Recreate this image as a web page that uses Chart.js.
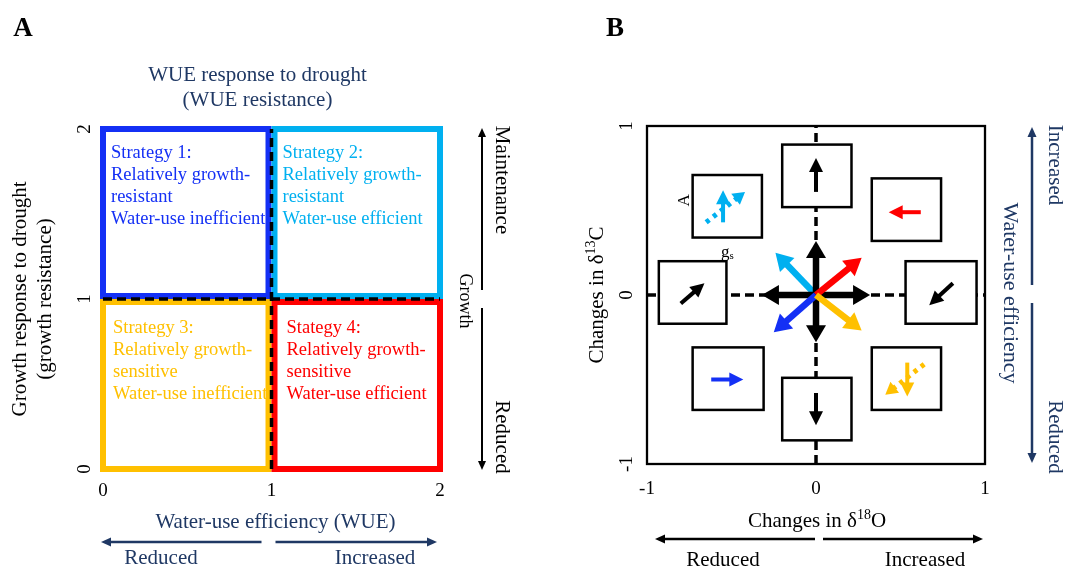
<!DOCTYPE html>
<html>
<head>
<meta charset="utf-8">
<title>WUE strategies and isotope responses</title>
<script src="https://cdn.jsdelivr.net/npm/chart.js@4/dist/chart.umd.min.js"></script>
<style>
  html, body { margin: 0; padding: 0; background: #ffffff; }
  #wrap { position: relative; width: 1067px; height: 571px; }
  #wrap canvas { position: absolute; left: 0; top: 0; }
</style>
</head>
<body>
<div id="wrap">
  <canvas id="panelA" width="1067" height="571"></canvas>
  <canvas id="panelB" width="1067" height="571"></canvas>
</div>
<script>
// ---------- Panel A: drought strategies on the WUE / growth resistance plane ----------
const resistanceTicks = [0, 1, 2];
const wueThreshold = 1;
const growthThreshold = 1;
const strategyNames = ['Strategy 1:', 'Strategy 2:', 'Strategy 3:', 'Stategy 4:'];
const growthTrait = ['Relatively growth-', 'Relatively growth-', 'Relatively growth-', 'Relatively growth-'];
const growthClass = ['resistant', 'resistant', 'sensitive', 'sensitive'];
const wueClass = ['Water-use inefficient', 'Water-use efficient', 'Water-use inefficient', 'Water-use efficient'];
const quadWueFrom = [0, 1, 0, 1];
const quadWueTo = [1, 2, 1, 2];
const quadGrowthFrom = [1, 1, 0, 0];
const quadGrowthTo = [2, 2, 1, 1];

// ---------- Panel B: expected shifts in δ13C and δ18O ----------
const isotopeTicks = [-1, 0, 1];
// inset boxes: δ18O range and δ13C range
const boxO18From = [-0.20, -0.73, 0.33, -0.93, 0.53, -0.73, -0.20, 0.33];
const boxO18To   = [ 0.21, -0.32, 0.74, -0.53, 0.95, -0.31,  0.21, 0.74];
const boxC13From = [ 0.52,  0.34, 0.32, -0.17, -0.17, -0.68, -0.86, -0.68];
const boxC13To   = [ 0.89,  0.71, 0.69,  0.20,  0.20, -0.31, -0.49, -0.31];
// solid arrow in each box (start -> tip)
const boxArrowO18Start = [0, 0.62, -0.80, 0.81, -0.62, 0, -0.55, 0.54];
const boxArrowC13Start = [0.61, 0.49, -0.05, 0.07, -0.50, -0.58, 0.43, -0.40];
const boxArrowO18Tip   = [0, 0.43, -0.66, 0.67, -0.43, 0, -0.55, 0.54];
const boxArrowC13Tip   = [0.81, 0.49, 0.07, -0.06, -0.50, -0.77, 0.62, -0.60];
const boxArrowColors = ['#000000', '#FF0000', '#000000', '#000000', '#1430F5', '#000000', '#00B0F0', '#FFC000'];
// dotted stomatal-conductance arrows
const gsArrowO18Start = [-0.65, 0.64];
const gsArrowC13Start = [0.43, -0.41];
const gsArrowO18Tip   = [-0.42, 0.41];
const gsArrowC13Tip   = [0.61, -0.59];
const gsArrowColors = ['#00B0F0', '#FFC000'];
// arrows radiating from the origin
const centerTipO18 = [-0.24, 0, 0, -0.32, 0.32, 0.27, -0.25, 0.27];
const centerTipC13 = [0.25, 0.32, -0.28, 0, 0, 0.22, -0.22, -0.21];
const centerColors = ['#00B0F0', '#000000', '#000000', '#000000', '#000000', '#FF0000', '#1430F5', '#FFC000'];

// ---------- styling ----------
const SERIF = "'Liberation Serif', 'Times New Roman', Times, serif";
const NAVY = '#1F3864';
const STRATEGY_COLORS = ['#1430F5', '#00B0F0', '#FFC000', '#FF0000'];

function fontStr(size, weight) { return (weight ? weight + ' ' : '') + size + 'px ' + SERIF; }

function drawText(ctx, str, x, y, o) {
  o = o || {};
  ctx.save();
  ctx.translate(x, y);
  if (o.rot) ctx.rotate(o.rot);
  ctx.font = fontStr(o.size || 21, o.weight);
  ctx.fillStyle = o.color || '#000';
  ctx.textAlign = o.align || 'center';
  ctx.textBaseline = 'middle';
  ctx.fillText(str, 0, 0);
  ctx.restore();
}

// text with super/subscript parts: [[string, 'n' | 'sup' | 'sub'], ...]
function drawRich(ctx, parts, x, y, size, color, rot, align) {
  ctx.save();
  ctx.translate(x, y);
  if (rot) ctx.rotate(rot);
  const small = Math.round(size * 0.66);
  let total = 0;
  const widths = parts.map(([s, k]) => {
    ctx.font = fontStr(k === 'n' ? size : small);
    const w = ctx.measureText(s).width;
    total += w;
    return w;
  });
  let cx = align === 'left' ? 0 : -total / 2;
  ctx.fillStyle = color;
  ctx.textAlign = 'left';
  ctx.textBaseline = 'middle';
  parts.forEach(([s, k], i) => {
    ctx.font = fontStr(k === 'n' ? size : small);
    const dy = k === 'sup' ? -size * 0.28 : (k === 'sub' ? size * 0.22 : 0);
    ctx.fillText(s, cx, dy);
    cx += widths[i];
  });
  ctx.restore();
}

function drawArrow(ctx, x0, y0, x1, y1, o) {
  const dx = x1 - x0, dy = y1 - y0;
  const len = Math.hypot(dx, dy);
  const ux = dx / len, uy = dy / len;
  const bx = x1 - ux * o.headLen, by = y1 - uy * o.headLen;
  ctx.save();
  ctx.strokeStyle = o.color;
  ctx.fillStyle = o.color;
  ctx.lineWidth = o.width;
  ctx.lineCap = 'butt';
  if (o.dash) ctx.setLineDash(o.dash);
  ctx.beginPath();
  ctx.moveTo(x0, y0);
  ctx.lineTo(bx + ux, by + uy);
  ctx.stroke();
  ctx.setLineDash([]);
  const hw = o.headWidth / 2;
  ctx.beginPath();
  ctx.moveTo(x1, y1);
  ctx.lineTo(bx - uy * hw, by + ux * hw);
  ctx.lineTo(bx + uy * hw, by - ux * hw);
  ctx.closePath();
  ctx.fill();
  ctx.restore();
}

function axis(min, max, tickValues, vertical, pad) {
  const ticks = {
    color: '#000',
    font: { family: SERIF, size: 19 },
    padding: pad
  };
  if (vertical) {
    ticks.minRotation = 90;
    ticks.maxRotation = 90;
    ticks.crossAlign = 'center';
  } else {
    ticks.maxRotation = 0;
  }
  return {
    type: 'linear',
    min: min,
    max: max,
    afterBuildTicks: (scale) => { scale.ticks = tickValues.map(v => ({ value: v })); },
    afterFit: (scale) => { if (vertical) scale.width = 30; else scale.height = 40; },
    grid: { display: false, drawTicks: false },
    border: { display: false },
    ticks: ticks
  };
}

function dashedLine(points) {
  return {
    data: points,
    showLine: true,
    borderColor: '#000',
    borderWidth: 3.5,
    borderDash: [9, 5],
    borderCapStyle: 'butt',
    pointRadius: 0,
    fill: false
  };
}

// ---------- Panel A ----------
const strategyPlugin = {
  id: 'strategyPlugin',
  beforeDatasetsDraw(chart) {
    const ctx = chart.ctx;
    const xs = chart.scales.x, ys = chart.scales.y;
    const lw = 6;
    ctx.save();
    ctx.lineWidth = lw;
    ctx.lineJoin = 'miter';
    for (let i = 0; i < strategyNames.length; i++) {
      let x0 = xs.getPixelForValue(quadWueFrom[i]);
      let x1 = xs.getPixelForValue(quadWueTo[i]);
      let yt = ys.getPixelForValue(quadGrowthTo[i]);
      let yb = ys.getPixelForValue(quadGrowthFrom[i]);
      // outlines meeting at the thresholds sit side by side
      if (quadWueFrom[i] === wueThreshold) x0 += lw / 2;
      if (quadWueTo[i] === wueThreshold) x1 -= lw / 2;
      if (quadGrowthTo[i] === growthThreshold) yt += lw / 2;
      if (quadGrowthFrom[i] === growthThreshold) yb -= lw / 2;
      ctx.strokeStyle = STRATEGY_COLORS[i];
      ctx.strokeRect(x0, yt, x1 - x0, yb - yt);
    }
    ctx.restore();
  },
  afterDraw(chart) {
    const ctx = chart.ctx;
    const xs = chart.scales.x, ys = chart.scales.y;
    const { left: L, right: R, top: T, bottom: B } = chart.chartArea;
    const xMid = xs.getPixelForValue(wueThreshold);
    const yMid = ys.getPixelForValue(growthThreshold);

    // strategy descriptions
    const dx = [8, 11, 10, 15];
    const dy = [24, 24, 29, 29];
    for (let i = 0; i < strategyNames.length; i++) {
      const x = xs.getPixelForValue(quadWueFrom[i]) + dx[i];
      const y = ys.getPixelForValue(quadGrowthTo[i]) + dy[i];
      const lines = [strategyNames[i], growthTrait[i], growthClass[i], wueClass[i]];
      lines.forEach((s, k) => drawText(ctx, s, x, y + k * 22, { size: 18.5, color: STRATEGY_COLORS[i], align: 'left' }));
    }

    // panel letter and titles
    drawText(ctx, 'A', L - 80, T - 100, { size: 27, weight: 'bold' });
    drawText(ctx, 'WUE response to drought', (L + R) / 2 - 14, T - 54, { size: 21, color: NAVY });
    drawText(ctx, '(WUE resistance)', (L + R) / 2 - 14, T - 29, { size: 21, color: NAVY });
    drawText(ctx, 'Growth response to drought', L - 83, (T + B) / 2, { size: 21, rot: -Math.PI / 2 });
    drawText(ctx, '(growth resistance)', L - 58, (T + B) / 2, { size: 21, rot: -Math.PI / 2 });

    // WUE axis direction
    drawText(ctx, 'Water-use efficiency (WUE)', (L + R) / 2 + 4, B + 53, { size: 21, color: NAVY });
    const ay = B + 73;
    drawArrow(ctx, xMid - 10, ay, L - 2, ay, { color: NAVY, width: 2.5, headLen: 10, headWidth: 9 });
    drawArrow(ctx, xMid + 4, ay, R - 3, ay, { color: NAVY, width: 2.5, headLen: 10, headWidth: 9 });
    drawText(ctx, 'Reduced', L + 58, B + 89, { size: 21, color: NAVY });
    drawText(ctx, 'Increased', L + 272, B + 89, { size: 21, color: NAVY });

    // growth direction
    const gx = R + 42;
    drawArrow(ctx, gx, yMid - 9, gx, T - 1, { color: '#000', width: 2, headLen: 9, headWidth: 8 });
    drawArrow(ctx, gx, yMid + 9, gx, B + 1, { color: '#000', width: 2, headLen: 9, headWidth: 8 });
    drawText(ctx, 'Maintenance', R + 62, T + 51, { size: 21, rot: Math.PI / 2 });
    drawText(ctx, 'Growth', R + 25, yMid + 2, { size: 18, rot: Math.PI / 2 });
    drawText(ctx, 'Reduced', R + 62, B - 32, { size: 21, rot: Math.PI / 2 });
  }
};

new Chart(document.getElementById('panelA'), {
  type: 'scatter',
  data: {
    datasets: [
      dashedLine([{ x: wueThreshold, y: resistanceTicks[0] }, { x: wueThreshold, y: resistanceTicks[2] }]),
      dashedLine([{ x: resistanceTicks[0], y: growthThreshold }, { x: resistanceTicks[2], y: growthThreshold }])
    ]
  },
  options: {
    responsive: false,
    animation: false,
    events: [],
    layout: { padding: { left: 73, right: 627, top: 129, bottom: 62 } },
    plugins: { legend: { display: false }, tooltip: { enabled: false } },
    scales: {
      x: axis(0, 2, resistanceTicks, false, 11),
      y: axis(0, 2, resistanceTicks, true, 13)
    }
  },
  plugins: [strategyPlugin]
});

// ---------- Panel B ----------
const isotopePlugin = {
  id: 'isotopePlugin',
  afterDatasetsDraw(chart) {
    const ctx = chart.ctx;
    const xs = chart.scales.x, ys = chart.scales.y;
    const px = v => xs.getPixelForValue(v);
    const py = v => ys.getPixelForValue(v);
    const { left: L, right: R, top: T, bottom: B } = chart.chartArea;

    // frame
    ctx.save();
    ctx.strokeStyle = '#000';
    ctx.lineWidth = 2.3;
    ctx.strokeRect(L, T, R - L, B - T);

    // inset boxes
    ctx.lineWidth = 2.5;
    for (let i = 0; i < boxO18From.length; i++) {
      const x0 = px(boxO18From[i]), x1 = px(boxO18To[i]);
      const y0 = py(boxC13To[i]), y1 = py(boxC13From[i]);
      ctx.fillStyle = '#fff';
      ctx.fillRect(x0, y0, x1 - x0, y1 - y0);
      ctx.strokeRect(x0, y0, x1 - x0, y1 - y0);
    }
    ctx.restore();

    // arrows in boxes
    for (let i = 0; i < boxArrowColors.length; i++) {
      drawArrow(ctx, px(boxArrowO18Start[i]), py(boxArrowC13Start[i]), px(boxArrowO18Tip[i]), py(boxArrowC13Tip[i]),
        { color: boxArrowColors[i], width: 4, headLen: 14, headWidth: 14 });
    }
    for (let i = 0; i < gsArrowColors.length; i++) {
      drawArrow(ctx, px(gsArrowO18Start[i]), py(gsArrowC13Start[i]), px(gsArrowO18Tip[i]), py(gsArrowC13Tip[i]),
        { color: gsArrowColors[i], width: 5, headLen: 12, headWidth: 14, dash: [4, 5] });
    }

    // arrows from the origin
    const ox = px(0), oy = py(0);
    for (let i = 0; i < centerColors.length; i++) {
      drawArrow(ctx, ox, oy, px(centerTipO18[i]), py(centerTipC13[i]),
        { color: centerColors[i], width: 6.5, headLen: 17, headWidth: 20 });
    }

    // A and gs labels beside the first dotted arrow box
    const bx0 = px(boxO18From[1]), bx1 = px(boxO18To[1]);
    const by0 = py(boxC13To[1]), by1 = py(boxC13From[1]);
    drawText(ctx, 'A', bx0 - 8, (by0 + by1) / 2 - 6, { size: 17, rot: -Math.PI / 2 });
    drawRich(ctx, [['g', 'n'], ['s', 'sub']], (bx0 + bx1) / 2, by1 + 15, 17, '#000', 0);
  },
  afterDraw(chart) {
    const ctx = chart.ctx;
    const xs = chart.scales.x, ys = chart.scales.y;
    const { left: L, right: R, top: T, bottom: B } = chart.chartArea;
    const cx = xs.getPixelForValue(0), cy = ys.getPixelForValue(0);

    drawText(ctx, 'B', L - 32, T - 97, { size: 27, weight: 'bold' });
    drawRich(ctx, [['Changes in \u03B4', 'n'], ['13', 'sup'], ['C', 'n']], L - 50, cy, 21, '#000', -Math.PI / 2);
    drawRich(ctx, [['Changes in \u03B4', 'n'], ['18', 'sup'], ['O', 'n']], cx + 1, B + 57, 21, '#000', 0);

    const ay = B + 75;
    drawArrow(ctx, cx - 1, ay, L + 8, ay, { color: '#000', width: 2.5, headLen: 10, headWidth: 9 });
    drawArrow(ctx, cx + 7, ay, R - 2, ay, { color: '#000', width: 2.5, headLen: 10, headWidth: 9 });
    drawText(ctx, 'Reduced', L + 76, B + 96, { size: 21 });
    drawText(ctx, 'Increased', L + 278, B + 96, { size: 21 });

    const wx = R + 47;
    drawArrow(ctx, wx, cy - 10, wx, T + 1, { color: NAVY, width: 2.5, headLen: 10, headWidth: 9 });
    drawArrow(ctx, wx, cy + 8, wx, B - 1, { color: NAVY, width: 2.5, headLen: 10, headWidth: 9 });
    drawText(ctx, 'Increased', R + 70, T + 39, { size: 21, color: NAVY, rot: Math.PI / 2 });
    drawText(ctx, 'Water-use efficiency', R + 25, cy - 2, { size: 22, color: NAVY, rot: Math.PI / 2 });
    drawText(ctx, 'Reduced', R + 70, B - 27, { size: 21, color: NAVY, rot: Math.PI / 2 });
  }
};

new Chart(document.getElementById('panelB'), {
  type: 'scatter',
  data: {
    datasets: [
      dashedLine([{ x: 0, y: isotopeTicks[0] }, { x: 0, y: isotopeTicks[2] }]),
      dashedLine([{ x: isotopeTicks[0], y: 0 }, { x: isotopeTicks[2], y: 0 }])
    ]
  },
  options: {
    responsive: false,
    animation: false,
    events: [],
    layout: { padding: { left: 617, right: 82, top: 126, bottom: 67 } },
    plugins: { legend: { display: false }, tooltip: { enabled: false } },
    scales: {
      x: axis(-1, 1, isotopeTicks, false, 14),
      y: axis(-1, 1, isotopeTicks, true, 12)
    }
  },
  plugins: [isotopePlugin]
});
</script>
</body>
</html>
